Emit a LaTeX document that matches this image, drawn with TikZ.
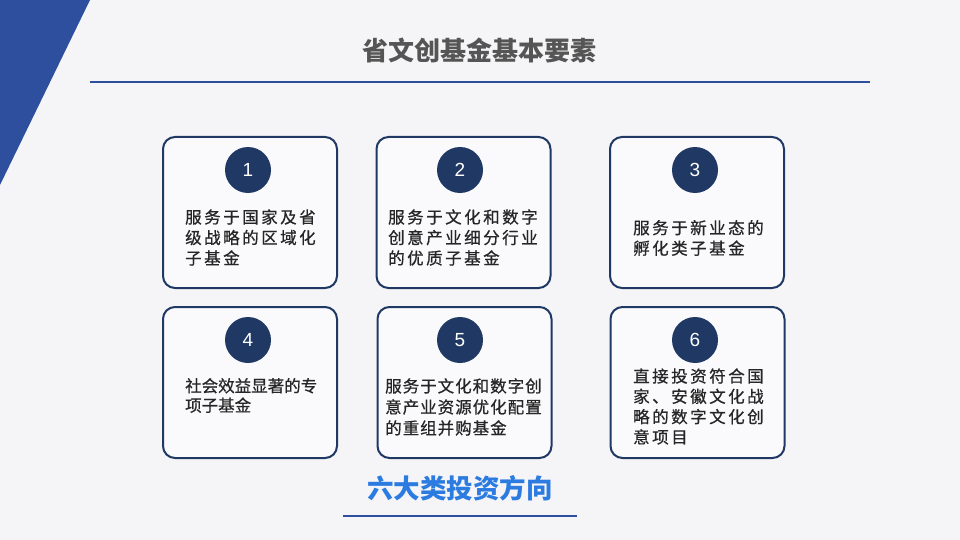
\documentclass[tikz,border=0pt]{standalone}
\usepackage{fontspec}
\setmainfont{Noto Sans CJK SC}
\newfontfamily\medfont{Noto Sans CJK SC}[FakeBold=0.7]
\newfontfamily\numfont{Liberation Sans}
\definecolor{navy}{HTML}{1F3864}
\definecolor{band}{HTML}{2E4F9E}
\definecolor{bright}{HTML}{2B7BE0}
\definecolor{bg}{HTML}{F5F5F7}
\definecolor{cardfill}{HTML}{FAFAFC}
\definecolor{txt}{HTML}{262626}
\definecolor{ttl}{HTML}{555555}
\newlength\cjkgap
\makeatletter
\def\spc@out#1{\ifx#1\relax\else#1\kern\cjkgap\expandafter\spc@out\fi}
\newcommand\spcd[1]{\spc@out#1\relax}
\makeatother
\tikzset{
  card/.style={draw=navy, line width=2pt, rounded corners=12pt, fill=cardfill,
    minimum width=174pt, minimum height=151pt, inner sep=0pt},
  num/.style={circle, fill=navy, minimum size=46pt, inner sep=0pt,
    text=white, font=\numfont\fontsize{19}{19}\selectfont},
  body/.style={anchor=west, align=left, inner sep=0pt, text=txt},
  title/.style={text=ttl, font=\bfseries\fontsize{26}{26}\selectfont, inner sep=0pt},
  rule/.style={draw=band, line width=2.5pt}
}
\begin{document}
\begin{tikzpicture}[x=1pt,y=-1pt]
\fill[bg] (0,0) rectangle (960,540);
\useasboundingbox (0,0) rectangle (960,540);
\fill[band] (0,0) -- (90,0) -- (0,185) -- cycle;
\node[title] (title) at (479,50) {省文创基金基本要素};
\coordinate (tl1) at (90,82);
\coordinate (tl2) at (870,82);
\draw[rule] (tl1) -- (tl2);

\node[card] (b1) at (250,212.5) {};
\node[card] (b2) at (463.5,212.5) {};
\node[card] (b3) at (697,212.5) {};
\node[card] (b4) at (250,382.5) {};
\node[card] (b5) at (464.5,382.5) {};
\node[card] (b6) at (697.5,382.5) {};

\node[num] (n1) at (248,170) {1};
\node[num] (n2) at (460,170) {2};
\node[num] (n3) at (695,170) {3};
\node[num] (n4) at (248,340) {4};
\node[num] (n5) at (460,340) {5};
\node[num] (n6) at (695,340) {6};

\node[body, font=\medfont\fontsize{16.5}{20.5}\selectfont\setlength\cjkgap{2.5pt}] (t1) at (185,237.5)
  {\spcd{服务于国家及省}\\\spcd{级战略的区域化}\\\spcd{子基金}};
\node[body, font=\medfont\fontsize{16.5}{20.5}\selectfont\setlength\cjkgap{2.5pt}] (t2) at (388,237.5)
  {\spcd{服务于文化和数字}\\\spcd{创意产业细分行业}\\\spcd{的优质子基金}};
\node[body, font=\medfont\fontsize{16.5}{20.5}\selectfont\setlength\cjkgap{2.5pt}] (t3) at (633,238)
  {\spcd{服务于新业态的}\\\spcd{孵化类子基金}};
\node[body, font=\medfont\fontsize{16.5}{19.5}\selectfont\setlength\cjkgap{0pt}] (t4) at (185,395.5)
  {\spcd{社会效益显著的专}\\\spcd{项子基金}};
\node[body, font=\medfont\fontsize{16.5}{21}\selectfont\setlength\cjkgap{1pt}] (t5) at (385,407)
  {\spcd{服务于文化和数字创}\\\spcd{意产业资源优化配置}\\\spcd{的重组并购基金}};
\node[body, font=\medfont\fontsize{16.5}{20.3}\selectfont\setlength\cjkgap{2.5pt}] (t6) at (633,406.5)
  {\spcd{直接投资符合国}\\\spcd{家、安徽文化战}\\\spcd{略的数字文化创}\\\spcd{意项目}};

\node[text=bright, font=\bfseries\fontsize{26.5}{26.5}\selectfont, inner sep=0pt] (sub) at (460,488) {六大类投资方向};
\coordinate (sl1) at (343,516);
\coordinate (sl2) at (577,516);
\draw[rule] (sl1) -- (sl2);
\end{tikzpicture}
\end{document}
